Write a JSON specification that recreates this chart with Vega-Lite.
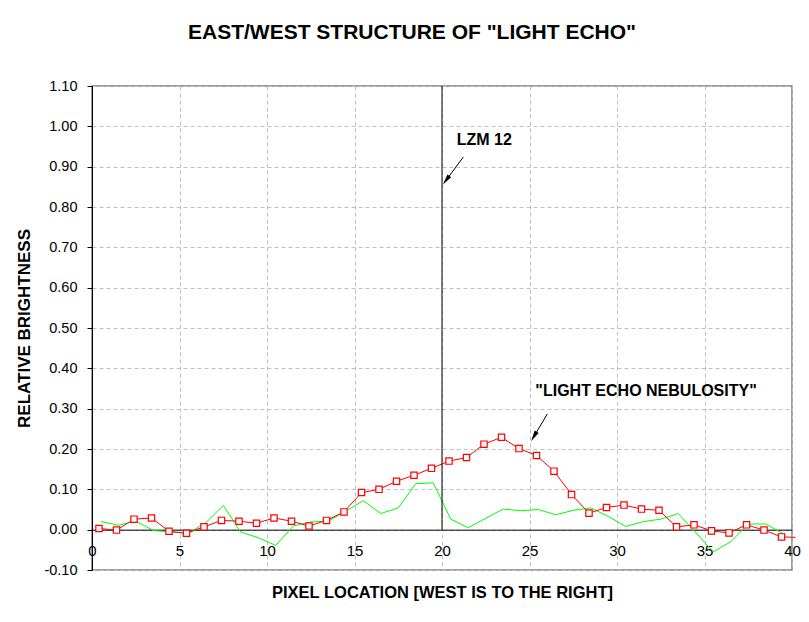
{
  "$schema": "https://vega.github.io/schema/vega-lite/v6.json",
  "width": 700,
  "height": 484,
  "autosize": {"type": "none"},
  "padding": {"left": 92, "top": 86, "right": 17, "bottom": 52},
  "background": "white",
  "config": {
    "font": "Liberation Sans",
    "view": {"stroke": "#808080", "strokeWidth": 1.5},
    "axis": {
      "grid": true,
      "gridColor": "#c0c0c0",
      "gridDash": [4, 3],
      "gridWidth": 1,
      "domainColor": "black",
      "domainWidth": 1,
      "tickColor": "black",
      "labelColor": "black",
      "labelFont": "Liberation Sans",
      "labelFontSize": 14.5,
      "titleColor": "black",
      "titleFont": "Liberation Sans",
      "titleFontWeight": "bold"
    }
  },
  "title": {
    "text": "EAST/WEST STRUCTURE OF \"LIGHT ECHO\"",
    "font": "Liberation Sans",
    "fontSize": 21,
    "fontWeight": "bold",
    "color": "black",
    "anchor": "middle",
    "dx": -30,
    "offset": 35
  },
  "layer": [
    {
      "data": {
        "values": [
          {"series": "red", "x": 0.4, "v": 0.003},
          {"series": "red", "x": 1.4, "v": -0.001},
          {"series": "red", "x": 2.4, "v": 0.026},
          {"series": "red", "x": 3.4, "v": 0.029},
          {"series": "red", "x": 4.4, "v": -0.004},
          {"series": "red", "x": 5.4, "v": -0.009},
          {"series": "red", "x": 6.4, "v": 0.007},
          {"series": "red", "x": 7.4, "v": 0.023},
          {"series": "red", "x": 8.4, "v": 0.021},
          {"series": "red", "x": 9.4, "v": 0.016},
          {"series": "red", "x": 10.4, "v": 0.029},
          {"series": "red", "x": 11.4, "v": 0.021},
          {"series": "red", "x": 12.4, "v": 0.009},
          {"series": "red", "x": 13.4, "v": 0.023},
          {"series": "red", "x": 14.4, "v": 0.044},
          {"series": "red", "x": 15.4, "v": 0.092},
          {"series": "red", "x": 16.4, "v": 0.1},
          {"series": "red", "x": 17.4, "v": 0.12},
          {"series": "red", "x": 18.4, "v": 0.135},
          {"series": "red", "x": 19.4, "v": 0.152},
          {"series": "red", "x": 20.4, "v": 0.17},
          {"series": "red", "x": 21.4, "v": 0.179},
          {"series": "red", "x": 22.4, "v": 0.212},
          {"series": "red", "x": 23.4, "v": 0.229},
          {"series": "red", "x": 24.4, "v": 0.201},
          {"series": "red", "x": 25.4, "v": 0.184},
          {"series": "red", "x": 26.4, "v": 0.145},
          {"series": "red", "x": 27.4, "v": 0.087},
          {"series": "red", "x": 28.4, "v": 0.041},
          {"series": "red", "x": 29.4, "v": 0.055},
          {"series": "red", "x": 30.4, "v": 0.061},
          {"series": "red", "x": 31.4, "v": 0.051},
          {"series": "red", "x": 32.4, "v": 0.048},
          {"series": "red", "x": 33.4, "v": 0.007},
          {"series": "red", "x": 34.4, "v": 0.012},
          {"series": "red", "x": 35.4, "v": -0.003},
          {"series": "red", "x": 36.4, "v": -0.008},
          {"series": "red", "x": 37.4, "v": 0.012},
          {"series": "red", "x": 38.4, "v": -0.001},
          {"series": "red", "x": 39.4, "v": -0.018},
          {"series": "red", "x": 40.2, "v": -0.019},
          {"series": "green", "x": 0.5, "v": 0.02},
          {"series": "green", "x": 1.5, "v": 0.011},
          {"series": "green", "x": 2.5, "v": 0.021},
          {"series": "green", "x": 3.5, "v": -0.002},
          {"series": "green", "x": 4.5, "v": -0.006},
          {"series": "green", "x": 5.5, "v": -0.009},
          {"series": "green", "x": 6.5, "v": 0.017},
          {"series": "green", "x": 7.5, "v": 0.06},
          {"series": "green", "x": 8.5, "v": -0.006},
          {"series": "green", "x": 9.5, "v": -0.02},
          {"series": "green", "x": 10.5, "v": -0.039},
          {"series": "green", "x": 11.5, "v": 0.009},
          {"series": "green", "x": 12.5, "v": 0.019},
          {"series": "green", "x": 13.5, "v": 0.021},
          {"series": "green", "x": 14.5, "v": 0.046},
          {"series": "green", "x": 15.5, "v": 0.072},
          {"series": "green", "x": 16.5, "v": 0.04},
          {"series": "green", "x": 17.5, "v": 0.054},
          {"series": "green", "x": 18.5, "v": 0.114},
          {"series": "green", "x": 19.5, "v": 0.116},
          {"series": "green", "x": 20.5, "v": 0.026},
          {"series": "green", "x": 21.5, "v": 0.005},
          {"series": "green", "x": 22.5, "v": 0.028},
          {"series": "green", "x": 23.5, "v": 0.051},
          {"series": "green", "x": 24.5, "v": 0.047},
          {"series": "green", "x": 25.5, "v": 0.05},
          {"series": "green", "x": 26.5, "v": 0.037},
          {"series": "green", "x": 27.5, "v": 0.048},
          {"series": "green", "x": 28.5, "v": 0.054},
          {"series": "green", "x": 29.5, "v": 0.033},
          {"series": "green", "x": 30.5, "v": 0.008},
          {"series": "green", "x": 31.5, "v": 0.02},
          {"series": "green", "x": 32.5, "v": 0.026},
          {"series": "green", "x": 33.5, "v": 0.04},
          {"series": "green", "x": 34.5, "v": -0.007},
          {"series": "green", "x": 35.5, "v": -0.055},
          {"series": "green", "x": 36.5, "v": -0.03},
          {"series": "green", "x": 37.5, "v": 0.014},
          {"series": "green", "x": 38.5, "v": 0.014},
          {"series": "green", "x": 39.5, "v": -0.01}
        ]
      },
      "encoding": {
        "x": {
          "field": "x",
          "type": "quantitative",
          "scale": {"domain": [0, 40], "nice": false, "zero": false},
          "axis": {
            "values": [0, 5, 10, 15, 20, 25, 30, 35, 40],
            "offset": -40.33,
            "ticks": false,
            "labelFlush": false,
            "labelPadding": 14,
            "labelFontSize": 15,
            "title": "PIXEL LOCATION [WEST IS TO THE RIGHT]",
            "titleFontSize": 16.5,
            "titlePadding": 26
          }
        },
        "y": {
          "field": "v",
          "type": "quantitative",
          "scale": {"domain": [-0.1, 1.1], "nice": false, "zero": false},
          "axis": {
            "values": [-0.1, 0, 0.1, 0.2, 0.3, 0.4, 0.5, 0.6, 0.7, 0.8, 0.9, 1.0, 1.1],
            "format": ".2f",
            "labelExpr": "replace(datum.label, '\u2212', '-')",
            "labelFlush": false,
            "tickSize": 5,
            "labelPadding": 10,
            "title": "RELATIVE BRIGHTNESS",
            "titleFontSize": 17,
            "titlePadding": 10
          }
        }
      },
      "layer": [
        {
          "transform": [{"filter": "datum.series === 'green'"}],
          "mark": {"type": "line", "color": "#00ff00", "strokeWidth": 1}
        },
        {
          "transform": [{"filter": "datum.series === 'red'"}],
          "mark": {"type": "line", "color": "#ff0000", "strokeWidth": 1}
        },
        {
          "transform": [{"filter": "datum.series === 'red' && datum.x < 40"}],
          "mark": {"type": "point", "shape": "square", "size": 40, "filled": true, "fill": "white", "stroke": "#ff0000", "strokeWidth": 1.2, "opacity": 1}
        }
      ]
    },
    {
      "data": {"values": [{"x": 20, "y": 0, "y2": 1.1}]},
      "mark": {"type": "rule", "color": "black", "strokeWidth": 1},
      "encoding": {
        "x": {"field": "x", "type": "quantitative"},
        "y": {"field": "y", "type": "quantitative"},
        "y2": {"field": "y2"}
      }
    },
    {
      "data": {"values": [
        {"x": 21.22, "y": 0.924, "x2": 20.23, "y2": 0.866},
        {"x": 26.02, "y": 0.287, "x2": 25.25, "y2": 0.231}
      ]},
      "mark": {"type": "rule", "color": "black", "strokeWidth": 1},
      "encoding": {
        "x": {"field": "x", "type": "quantitative"},
        "y": {"field": "y", "type": "quantitative"},
        "x2": {"field": "x2"},
        "y2": {"field": "y2"}
      }
    },
    {
      "data": {"values": [{"x": 20.23, "y": 0.866}]},
      "mark": {"type": "point", "shape": "M0,-1L0.42,1L-0.42,1Z", "size": 120, "filled": true, "color": "black", "opacity": 1, "angle": 216.7},
      "encoding": {
        "x": {"field": "x", "type": "quantitative"},
        "y": {"field": "y", "type": "quantitative"}
      }
    },
    {
      "data": {"values": [{"x": 25.25, "y": 0.231}]},
      "mark": {"type": "point", "shape": "M0,-1L0.42,1L-0.42,1Z", "size": 120, "filled": true, "color": "black", "opacity": 1, "angle": 210.7},
      "encoding": {
        "x": {"field": "x", "type": "quantitative"},
        "y": {"field": "y", "type": "quantitative"}
      }
    },
    {
      "data": {"values": [{"x": 20.84, "y": 0.965, "label": "LZM 12"}]},
      "mark": {"type": "text", "align": "left", "baseline": "middle", "font": "Liberation Sans", "fontSize": 16, "fontWeight": "bold", "color": "black"},
      "encoding": {
        "x": {"field": "x", "type": "quantitative"},
        "y": {"field": "y", "type": "quantitative"},
        "text": {"field": "label"}
      }
    },
    {
      "data": {"values": [{"x": 31.66, "y": 0.345, "label": "\"LIGHT ECHO NEBULOSITY\""}]},
      "mark": {"type": "text", "align": "center", "baseline": "middle", "font": "Liberation Sans", "fontSize": 16, "fontWeight": "bold", "color": "black"},
      "encoding": {
        "x": {"field": "x", "type": "quantitative"},
        "y": {"field": "y", "type": "quantitative"},
        "text": {"field": "label"}
      }
    }
  ]
}
